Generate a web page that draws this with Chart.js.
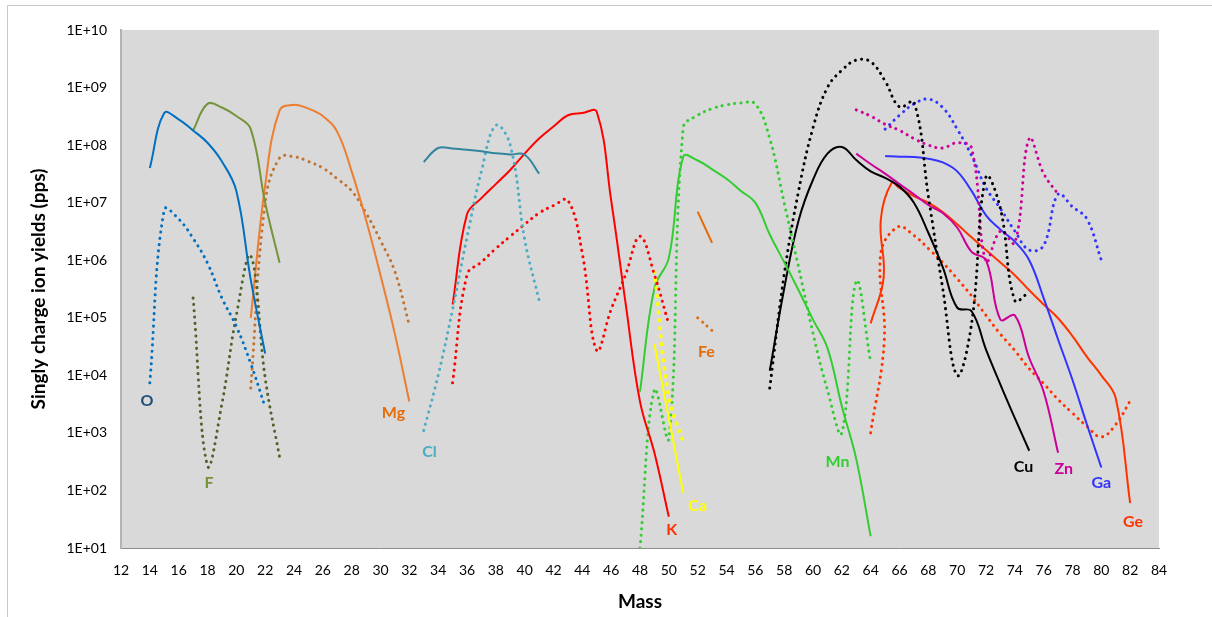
<!DOCTYPE html>
<html>
<head>
<meta charset="utf-8">
<script src="https://cdn.jsdelivr.net/npm/chart.js@4/dist/chart.umd.min.js"></script>
<style>
    html, body { margin: 0; padding: 0; background: #ffffff; }
    #wrap { width: 1212px; height: 617px; position: relative; }
</style>
</head>
<body>
<div id="wrap"><canvas id="yieldChart" width="1212" height="617"></canvas></div>
<script>
// masses (x) and yields (pps)
var massO = [14, 15, 16, 17, 18, 19, 20, 21, 22];
var oSolid = [4.0e7, 3.6e8, 2.8e8, 1.8e8, 1.1e8, 5.2e7, 1.6e7, 4.6e5, 2.4e4];
var oDotted = [7.4e3, 7.6e6, 5.2e6, 2.4e6, 8.9e5, 2.2e5, 7.1e4, 1.6e4, 2.8e3];

var massF = [17, 18, 19, 20, 21, 22, 23];
var fSolid = [1.8e8, 5.2e8, 4.5e8, 3.2e8, 1.9e8, 1.0e7, 9.0e5];
var fDotted = [2.2e5, 270, 3.2e3, 1.1e5, 1.2e6, 9.0e3, 380];

var massMg = [21, 22, 23, 24, 25, 26, 27, 28, 29, 30, 31, 32];
var mgSolid = [1.0e5, 2.0e7, 4.0e8, 5.0e8, 4.3e8, 3.2e8, 1.7e8, 3.5e7, 5.0e6, 5.5e5, 5.2e4, 3.5e3];
var mgDotted = [6.0e3, 1.0e7, 6.0e7, 6.3e7, 5.2e7, 4.0e7, 2.6e7, 1.6e7, 6.6e6, 2.2e6, 6.3e5, 7.4e4];

var massCl = [33, 34, 35, 36, 37, 38, 39, 40, 41];
var clSolid = [5.1e7, 8.9e7, 8.7e7, 8.3e7, 7.8e7, 7.2e7, 6.9e7, 6.8e7, 3.2e7];
var clDotted = [1.1e3, 1.0e4, 1.4e5, 2.5e6, 3.5e7, 2.2e8, 1.0e8, 2.3e6, 2.0e5];

var massK = [35, 36, 37, 38, 39, 40, 41, 42, 43, 44, 45, 46, 47, 48, 49, 50];
var kSolid = [1.7e5, 6.3e6, 1.2e7, 2.1e7, 3.7e7, 7.1e7, 1.3e8, 2.1e8, 3.3e8, 3.6e8, 3.8e8, 1.1e7, 1.8e5, 3.5e3, 450, 35];
var kDotted = [7.4e3, 5.6e5, 9.3e5, 1.6e6, 2.6e6, 4.2e6, 6.6e6, 8.9e6, 1.1e7, 1.3e6, 2.7e4, 1.4e5, 5.6e5, 2.6e6, 5.6e5, 7.6e4];

var massCa = [49, 50, 51];
var caSolid = [3.5e4, 1.8e3, 90];
var caDotted = [6.3e5, 4.2e3, 700];

var massFe = [52, 53];
var feSolid = [7.0e6, 2.0e6];
var feDotted = [1.0e5, 6.0e4];

var massMn = [48, 49, 50, 51, 52, 53, 54, 55, 56, 57, 58, 59, 60, 61, 62, 63, 64];
var mnSolid = [5.2e3, 3.3e5, 1.1e6, 6.3e7, 5.4e7, 3.8e7, 2.6e7, 1.6e7, 1.0e7, 2.8e6, 9.3e5, 3.0e5, 9.3e4, 3.0e4, 2.9e3, 350, 16];
var mnDotted = [10, 5.6e3, 800, 2.0e8, 3.3e8, 4.3e8, 5.0e8, 5.4e8, 5.2e8, 1.3e8, 1.0e7, 7.6e5, 5.4e4, 5.6e3, 1.0e3, 4.3e5, 1.7e4];

var massCu = [57, 58, 59, 60, 61, 62, 63, 64, 65, 66, 67, 68, 69, 70, 71, 72, 73, 74, 75];
var cuSolid = [1.2e4, 3.2e5, 4.9e6, 2.5e7, 7.1e7, 9.3e7, 5.5e7, 3.5e7, 2.7e7, 1.9e7, 1.0e7, 3.0e6, 7.6e5, 1.5e5, 1.3e5, 2.8e4, 6.9e3, 1.8e3, 490];
var cuDotted = [6.0e3, 5.6e5, 1.6e7, 2.0e8, 1.0e9, 2.0e9, 3.0e9, 2.8e9, 1.3e9, 4.6e8, 5.6e8, 1.3e7, 3.2e5, 1.0e4, 7.9e4, 2.8e7, 7.9e6, 2.0e5, 2.8e5];

var massZn = [63, 64, 65, 66, 67, 68, 69, 70, 71, 72, 73, 74, 75, 76, 77];
var znSolid = [7.1e7, 4.7e7, 3.2e7, 2.1e7, 1.4e7, 9.1e6, 6.6e6, 3.7e6, 1.4e6, 1.0e6, 9.3e4, 1.1e5, 2.0e4, 5.2e3, 450];
var znDotted = [4.1e8, 3.2e8, 2.3e8, 1.8e8, 1.3e8, 1.0e8, 8.9e7, 1.1e8, 8.9e7, 9.5e5, 3.2e6, 2.0e6, 1.3e8, 3.2e7, 1.4e7];

var massGa = [65, 66, 67, 68, 69, 70, 71, 72, 73, 74, 75, 76, 77, 78, 79, 80];
var gaSolid = [6.5e7, 6.3e7, 6.2e7, 5.8e7, 5.0e7, 3.5e7, 1.6e7, 6.0e6, 3.4e6, 2.1e6, 1.0e6, 2.2e5, 4.2e4, 8.3e3, 1.4e3, 250];
var gaDotted = [1.9e8, 3.3e8, 5.2e8, 6.3e8, 4.5e8, 1.9e8, 6.6e7, 1.8e7, 7.9e6, 3.2e6, 1.5e6, 1.8e6, 1.4e7, 8.5e6, 5.2e6, 1.0e6];

// Ge curves fold back near 64.7, so they carry a few extra read points
var massGeSolid = [64, 64.9, 64.7, 65.45, 66, 67, 68, 69, 70, 71, 72, 73, 74, 75, 76, 77, 78, 79, 80, 81, 82];
var geSolid = [8.0e4, 5.0e5, 5.0e6, 2.2e7, 1.8e7, 1.3e7, 1.0e7, 6.9e6, 4.2e6, 2.5e6, 1.5e6, 9.1e5, 5.5e5, 3.0e5, 1.7e5, 9.8e4, 4.8e4, 2.1e4, 1.0e4, 4.0e3, 60];
var massGeDotted = [64, 64.95, 64.7, 65.9, 67, 68, 69, 70, 71, 72, 73, 74, 75, 76, 77, 78, 79, 80, 81, 82];
var geDotted = [1.0e3, 4.2e4, 1.3e6, 3.8e6, 2.7e6, 1.6e6, 9.1e5, 4.8e5, 2.4e5, 1.1e5, 5.2e4, 2.7e4, 1.3e4, 7.2e3, 3.8e3, 2.2e3, 1.3e3, 850, 1.4e3, 3.6e3];

// element name labels, anchored in data units
var labelNames = ['O', 'F', 'Mg', 'Cl', 'K', 'Ca', 'Fe', 'Mn', 'Cu', 'Zn', 'Ga', 'Ge'];
var labelMass = [13.8, 18.1, 30.9, 33.4, 50.2, 52.0, 52.6, 61.7, 74.6, 77.4, 80.0, 82.2];
var labelYield = [3.6e3, 138, 2.2e3, 470, 21, 55, 2.6e4, 316, 257, 240, 138, 29];
var labelColors = ['#1f4e79', '#77933c', '#e46c0a', '#4bacc6', '#ff3300', '#ffff00', '#e46c0a', '#33cc33', '#000000', '#cc0099', '#3333ff', '#ff3300'];

var yTicks = [1e1, 1e2, 1e3, 1e4, 1e5, 1e6, 1e7, 1e8, 1e9, 1e10];

Chart.defaults.font.family = 'Lato, "Open Sans", sans-serif';
Chart.defaults.color = '#000000';

function series(name, masses, values, color, dotted, dotSize, gap) {
    return {
        label: name,
        data: masses.map(function (m, i) { return { x: m, y: values[i] }; }),
        borderColor: color,
        backgroundColor: color,
        borderWidth: dotted ? (dotSize || 3) : 2,
        borderDash: dotted ? [0.1, gap || 6.2] : [],
        borderCapStyle: dotted ? 'round' : 'butt',
        pointRadius: 0,
        tension: 0.4,
        fill: false
    };
}

var plotBackground = {
    id: 'plotBackground',
    beforeDraw: function (chart) {
        var ctx = chart.ctx;
        var a = chart.chartArea;
        ctx.save();
        ctx.fillStyle = '#ffffff';
        ctx.fillRect(0, 0, chart.width, chart.height);
        ctx.strokeStyle = '#c8c8c8';
        ctx.lineWidth = 1;
        ctx.strokeRect(7.5, 5.5, 1220, 640);
        ctx.fillStyle = '#d9d9d9';
        ctx.fillRect(a.left, a.top, a.right - a.left, a.bottom - a.top);
        ctx.restore();
    }
};

var elementLabels = {
    id: 'elementLabels',
    afterDatasetsDraw: function (chart) {
        var ctx = chart.ctx;
        var xs = chart.scales.x;
        var ys = chart.scales.y;
        ctx.save();
        ctx.font = 'bold 16px Lato, "Open Sans", sans-serif';
        ctx.textAlign = 'center';
        ctx.textBaseline = 'middle';
        labelNames.forEach(function (n, i) {
            ctx.fillStyle = labelColors[i];
            ctx.fillText(n, xs.getPixelForValue(labelMass[i]), ys.getPixelForValue(labelYield[i]));
        });
        ctx.restore();
    }
};

var yieldCtx = document.getElementById('yieldChart').getContext('2d');
var yieldChart = new Chart(yieldCtx, {
    type: 'line',
    data: {
        datasets: [
            series('O', massO, oSolid, '#0070c0', false),
            series('O dotted', massO, oDotted, '#0070c0', true),
            series('F', massF, fSolid, '#77933c', false),
            series('F dotted', massF, fDotted, '#4f6228', true),
            series('Mg', massMg, mgSolid, '#ed7d31', false),
            series('Mg dotted', massMg, mgDotted, '#c0722e', true),
            series('Cl', massCl, clSolid, '#31859c', false),
            series('Cl dotted', massCl, clDotted, '#4bacc6', true),
            series('K', massK, kSolid, '#ff0000', false),
            series('K dotted', massK, kDotted, '#ff0000', true),
            series('Ca', massCa, caSolid, '#ffff00', false),
            series('Ca dotted', massCa, caDotted, '#ffff00', true, 4, 8),
            series('Fe', massFe, feSolid, '#e46c0a', false),
            series('Fe dotted', massFe, feDotted, '#e46c0a', true),
            series('Mn', massMn, mnSolid, '#33cc33', false),
            series('Mn dotted', massMn, mnDotted, '#33cc33', true),
            series('Cu', massCu, cuSolid, '#000000', false),
            series('Cu dotted', massCu, cuDotted, '#000000', true),
            series('Zn', massZn, znSolid, '#cc0099', false),
            series('Zn dotted', massZn, znDotted, '#cc0099', true),
            series('Ga', massGa, gaSolid, '#3333ff', false),
            series('Ga dotted', massGa, gaDotted, '#3333ff', true),
            series('Ge', massGeSolid, geSolid, '#ff3300', false),
            series('Ge dotted', massGeDotted, geDotted, '#ff3300', true)
        ]
    },
    options: {
        responsive: false,
        animation: false,
        devicePixelRatio: 1,
        layout: {
            padding: {
                left: 12,
                right: 53,
                top: 30,
                bottom: 0
            }
        },
        scales: {
            x: {
                type: 'linear',
                min: 12,
                max: 84,
                grid: { display: false, drawTicks: false },
                border: { display: true, color: '#8c8c8c', width: 1 },
                ticks: {
                    stepSize: 2,
                    padding: 14,
                    maxRotation: 0,
                    autoSkip: false,
                    font: { size: 14 }
                },
                title: {
                    display: true,
                    text: 'Mass',
                    font: { size: 19, weight: 'bold' },
                    padding: { top: 0, bottom: 4 }
                },
                afterFit: function (scale) {
                    scale.height = 69;
                }
            },
            y: {
                type: 'logarithmic',
                min: 10,
                max: 1e10,
                grid: { display: false, drawTicks: false },
                border: { display: true, color: '#b3b3b3', width: 2 },
                afterBuildTicks: function (scale) {
                    scale.ticks = yTicks.map(function (v) { return { value: v }; });
                },
                ticks: {
                    padding: 14,
                    font: { size: 14 },
                    callback: function (value) {
                        var e = Math.round(Math.log10(value));
                        return '1E+' + (e < 10 ? '0' + e : e);
                    }
                },
                title: {
                    display: true,
                    text: 'Singly charge ion yields (pps)',
                    font: { size: 19, weight: 'bold' },
                    padding: { top: 15, bottom: 0 }
                },
                afterFit: function (scale) {
                    scale.width = 109;
                }
            }
        },
        plugins: {
            legend: { display: false },
            tooltip: { enabled: false }
        }
    },
    plugins: [plotBackground, elementLabels]
});
</script>
</body>
</html>
